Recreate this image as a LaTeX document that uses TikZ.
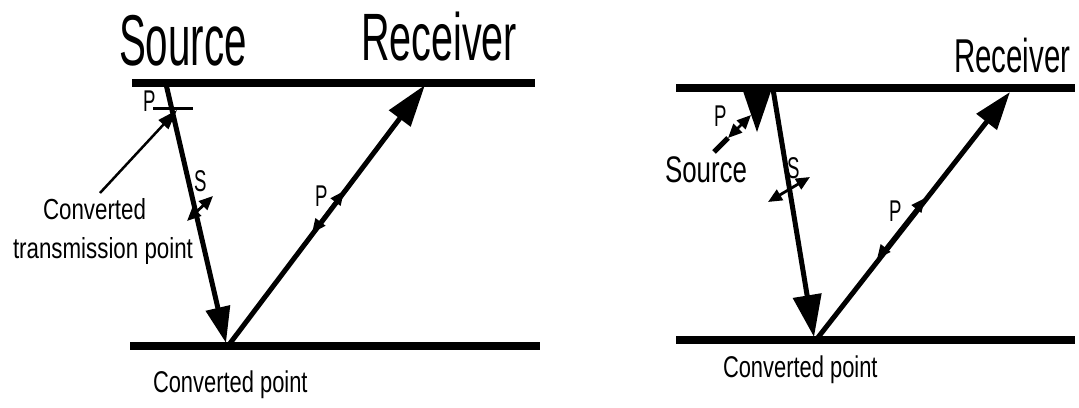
\documentclass[tikz,border=0pt]{standalone}
\usepackage{fontspec}
\setmainfont{Liberation Sans}
\usepackage{graphicx}
\usetikzlibrary{arrows.meta}
\newcommand\mytxt[3]{\scalebox{#1}[1]{\fontsize{#2}{#2}\selectfont #3}}
\begin{document}
\begin{tikzpicture}[x=1pt,y=-1pt,
  lab/.style={inner sep=0pt, outer sep=0pt, anchor=base west},
  bar/.style={line width=8pt},
  ray/.style={line width=5pt},
  pol/.style={line width=2.8pt, arrows={Triangle[length=14pt,width=12pt]-Triangle[length=14pt,width=12pt]}}]
\useasboundingbox (0,0) rectangle (1079,407);
% ---------- left panel ----------
\coordinate (LTa) at (132,83);
\coordinate (LTb) at (535,83);
\coordinate (LBa) at (130,346);
\coordinate (LBb) at (540,346);
\draw[bar] (LTa) -- (LTb);
\draw[bar] (LBa) -- (LBb);
\node[lab] (srcL) at (119,65) {\mytxt{0.56}{72}{Source}};
\node[lab] (recL) at (361,60) {\mytxt{0.59}{67}{Receiver}};
\coordinate (LS0) at (166,84);
\coordinate (LS1) at (226,343);
\coordinate (LC) at (228,346);
\coordinate (LP1) at (425,85);
\draw[ray, -{Triangle[length=36pt,width=24pt]}] (LS0) -- (LS1);
\draw[ray, -{Triangle[length=42pt,width=26pt]}] (LC) -- (LP1);
% converted transmission point
\coordinate (tk0) at (153,108);
\coordinate (tk1) at (193,108);
\draw[line width=3pt] (tk0) -- (tk1);
\node[lab] (pL1) at (143,111) {\mytxt{0.62}{30}{P}};
\node[lab] (ctp1) at (43,219) {\mytxt{0.77}{29}{Converted}};
\node[lab] (ctp2) at (13,258) {\mytxt{0.77}{29}{transmission point}};
\coordinate (ctpA) at (100,193);
\coordinate (ctpB) at (177,110);
\draw[line width=2.5pt, -{Triangle[length=20pt,width=13pt]}] (ctpA) -- (ctpB);
% S polarization
\node[lab] (sL) at (194,191) {\mytxt{0.62}{30}{S}};
\coordinate (sLa) at (187,221);
\coordinate (sLb) at (213,196);
\draw[pol] (sLa) -- (sLb);
% P polarization
\node[lab] (pL2) at (315,206) {\mytxt{0.62}{30}{P}};
\coordinate (pLa) at (312,233);
\coordinate (pLb) at (344,191);
\draw[pol] (pLa) -- (pLb);
\node[lab] (cpL) at (153,392) {\mytxt{0.73}{30}{Converted point}};
% ---------- right panel ----------
\coordinate (RTa) at (676,88);
\coordinate (RTb) at (1075,88);
\coordinate (RBa) at (676,340);
\coordinate (RBb) at (1075,340);
\draw[bar] (RTa) -- (RTb);
\draw[bar] (RBa) -- (RBb);
\node[lab] (recR) at (954,72) {\mytxt{0.62}{47.5}{Receiver}};
\node[lab] (srcR) at (665,182) {\mytxt{0.70}{37}{Source}};
\coordinate (RS0) at (773,89);
\coordinate (RS1) at (814,337);
\coordinate (RC) at (816,340);
\coordinate (RP1) at (1010,92);
\draw[ray, -{Triangle[length=42pt,width=28pt]}] (RS0) -- (RS1);
\draw[ray, -{Triangle[length=38pt,width=25pt]}] (RC) -- (RP1);
\fill (743,91) -- (771,91) -- (757,132) -- cycle;
% source P
\coordinate (sPa) at (714,152);
\coordinate (sPb) at (751,115);
\coordinate (sPm) at (728,138);
\draw[line width=5pt] (sPa) -- (sPm);
\draw[pol] (sPm) -- (sPb);
\node[lab] (pR1) at (714,126) {\mytxt{0.62}{30}{P}};
% S polarization
\node[lab] (sR) at (787,178) {\mytxt{0.62}{30}{S}};
\coordinate (sRa) at (768,202);
\coordinate (sRb) at (810,177);
\draw[pol] (sRa) -- (sRb);
% P polarization
\node[lab] (pR2) at (889,221) {\mytxt{0.62}{30}{P}};
\coordinate (pRa) at (877,259);
\coordinate (pRb) at (925,198);
\draw[pol] (pRa) -- (pRb);
\node[lab] (cpR) at (723,377) {\mytxt{0.73}{30}{Converted point}};
\end{tikzpicture}
\end{document}
